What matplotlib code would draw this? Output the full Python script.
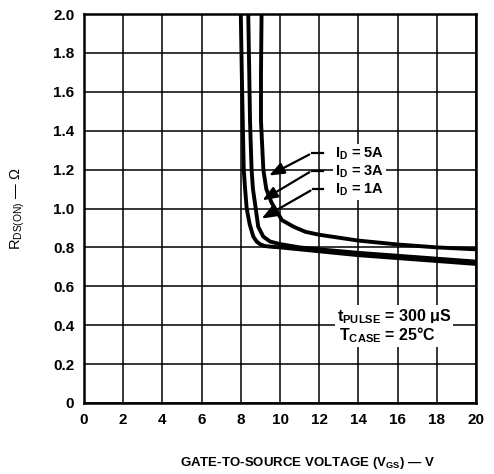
import matplotlib
matplotlib.use("Agg")
import matplotlib.pyplot as plt

plt.rcParams['font.family'] = ['Liberation Sans', 'DejaVu Sans']
plt.rcParams['mathtext.fontset'] = 'custom'
plt.rcParams['mathtext.rm'] = 'Liberation Sans:bold'
plt.rcParams['mathtext.sf'] = 'Liberation Sans'

vgs_1a = [8.00, 8.05, 8.10, 8.15, 8.22, 8.30, 8.45, 8.64, 8.81, 9.00, 9.23, 9.6, 10.0, 11.0, 12.0, 14.0, 16.0, 18.0, 20.0]
rds_1a = [2.00, 1.70, 1.45, 1.20, 1.10, 1.00, 0.92, 0.855, 0.83, 0.815, 0.807, 0.803, 0.80, 0.79, 0.78, 0.76, 0.745, 0.73, 0.715]
vgs_3a = [8.38, 8.43, 8.47, 8.55, 8.62, 8.72, 8.89, 9.15, 9.5, 10.0, 11.0, 12.0, 14.0, 16.0, 18.0, 20.0]
rds_3a = [2.00, 1.70, 1.45, 1.20, 1.10, 1.03, 0.906, 0.855, 0.83, 0.817, 0.80, 0.79, 0.772, 0.757, 0.742, 0.727]
vgs_5a = [9.06, 9.03, 9.03, 9.15, 9.30, 9.57, 10.1, 10.7, 11.3, 12.0, 13.0, 14.0, 16.0, 18.0, 20.0]
rds_5a = [2.00, 1.70, 1.45, 1.20, 1.10, 1.03, 0.94, 0.906, 0.88, 0.865, 0.85, 0.835, 0.815, 0.80, 0.79]

xticks = [0, 2, 4, 6, 8, 10, 12, 14, 16, 18, 20]
yticks = [0, 0.2, 0.4, 0.6, 0.8, 1.0, 1.2, 1.4, 1.6, 1.8, 2.0]
ytick_labels = ['0', '0.2', '0.4', '0.6', '0.8', '1.0', '1.2', '1.4', '1.6', '1.8', '2.0']

fig = plt.figure(figsize=(4.94, 4.74), dpi=100)
ax = fig.add_axes([84/494, 71/474, 392/494, 389/474])
ax.set_xlim(0, 20)
ax.set_ylim(0, 2.0)
ax.set_xticks(xticks)
ax.set_yticks(yticks)
ax.set_xticklabels([str(t) for t in xticks], fontweight='bold', fontsize=11)
ax.set_yticklabels(ytick_labels, fontweight='bold', fontsize=11)
ax.tick_params(length=0, pad=7)
ax.grid(True, color='black', linewidth=1.1)
for s in ax.spines.values():
    s.set_linewidth(1.8)

for v, r in [(vgs_1a, rds_1a), (vgs_3a, rds_3a), (vgs_5a, rds_5a)]:
    ax.plot(v, r, color='black', linewidth=2.8, solid_joinstyle='round', zorder=3)

# labels with leader arrows
labels = [r'I$_{\mathrm{D}}$ = 5A', r'I$_{\mathrm{D}}$ = 3A', r'I$_{\mathrm{D}}$ = 1A']
label_y = [1.28, 1.19, 1.095]
tips = [(9.32, 1.163), (8.98, 1.035), (8.94, 0.941)]
elbows = [(11.62, 1.284), (11.62, 1.194), (11.68, 1.099)]
for lab, ly, tip, elb in zip(labels, label_y, tips, elbows):
    ax.text(12.8, ly, lab, fontsize=10.5, fontweight='bold', va='center', ha='left', zorder=5,
            bbox=dict(facecolor='white', edgecolor='none', pad=1.5))
    ax.plot([elb[0], 12.2], [elb[1], elb[1]], color='black', linewidth=1.6, zorder=4)
    ax.annotate('', xy=tip, xytext=elb,
                arrowprops=dict(arrowstyle='-|>,head_length=0.9,head_width=0.35',
                                color='black', linewidth=1.6), zorder=4)

ax.text(12.9, 0.444, r't$_{\mathrm{PULSE}}$ = 300 μS', fontsize=11.5, fontweight='bold',
        va='center', ha='left', zorder=5, bbox=dict(facecolor='white', edgecolor='none', pad=1.5))
ax.text(13.0, 0.35, r'T$_{\mathrm{CASE}}$ = 25°C', fontsize=11.5, fontweight='bold',
        va='center', ha='left', zorder=5, bbox=dict(facecolor='white', edgecolor='none', pad=1.5))

ax.set_xlabel(r'GATE-TO-SOURCE VOLTAGE (V$_{\mathrm{GS}}$) — V', fontsize=9.5, fontweight='bold')
ax.xaxis.set_label_coords(0.571, -0.134)
ax.set_ylabel(r'R$_{\mathsf{DS(ON)}}$ — Ω', fontsize=10.5)
ax.yaxis.set_label_coords(-0.145, 0.5)

fig.savefig('out.png', dpi=100)
